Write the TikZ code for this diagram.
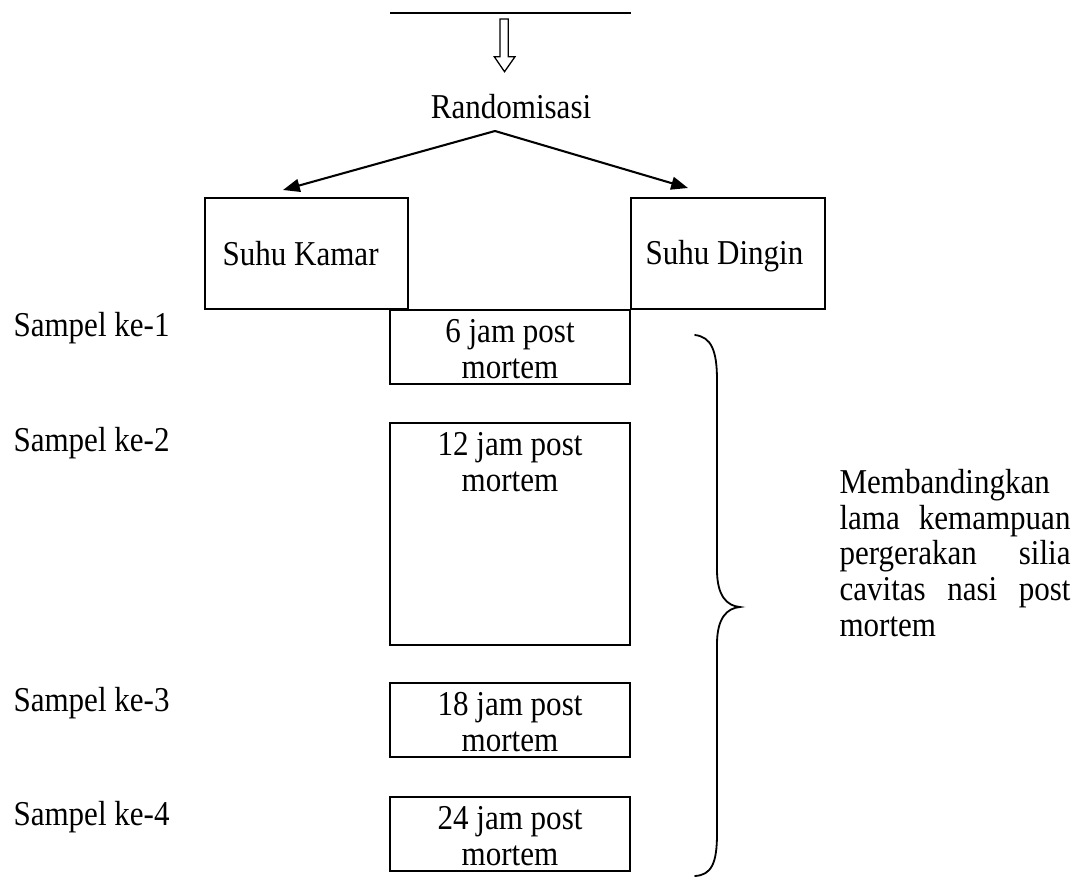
\documentclass[tikz,border=0pt]{standalone}
\usepackage{fontspec}
\setmainfont{Liberation Serif}[FakeStretch=0.89]
\usepackage{tikz}
\usetikzlibrary{arrows.meta}
\def\pxu{0.387pt}
\tikzset{
  box/.style={draw=black, line width=0.8pt, inner sep=0pt, minimum width=240*\pxu, minimum height=74*\pxu},
  lab/.style={font=\fontsize{13.5}{13.9}\selectfont, inner sep=0pt, align=center},
  arr/.style={draw=black, line width=0.8pt, -{Triangle[length=6.5pt,width=5pt]}},
  hollow/.style={draw=black, line width=0.5pt, line join=miter},
  brc/.style={draw=black, line width=0.7pt, line cap=round},
}

\begin{document}
\begin{tikzpicture}[x=\pxu,y=-\pxu]
  \useasboundingbox (0,0) rectangle (1078,878);

  \draw[line width=0.9pt] (390,12.7) -- (631,12.7);
  \draw[hollow] (500,19) -- (508.3,19) -- (508.3,56.7) -- (515,56.7) -- (504.5,71.7)
    -- (494.3,56.7) -- (500,56.7) -- cycle;

  \node[lab] (rand) at (511,107) {Randomisasi};
  \coordinate (split) at (495,131);
  \coordinate (kamar-in) at (283,190);
  \coordinate (dingin-in) at (688,188);

  \node[box, minimum width=203*\pxu, minimum height=111*\pxu] (kamar) at (306.5,253.5) {};
  \node[lab, anchor=west] (kamar-t) at (222,254) {Suhu Kamar};
  \node[box, minimum width=194*\pxu, minimum height=111*\pxu] (dingin) at (728,253.5) {};
  \node[lab, anchor=west] (dingin-t) at (645,256) {Suhu Dingin};

  \draw[arr] (split) -- (kamar-in);
  \draw[arr] (split) -- (dingin-in);

  % time boxes
  \node[box] (jam6) at (510,347) {};
  \node[lab] (jam6-t) at (510,349) {6 jam post\\mortem};
  \node[box, minimum height=222*\pxu] (jam12) at (510,534) {};
  \node[lab] (jam12-t) at (510,462) {12 jam post\\mortem};
  \node[box] (jam18) at (510,720) {};
  \node[lab] (jam18-t) at (510,722) {18 jam post\\mortem};
  \node[box] (jam24) at (510,834) {};
  \node[lab] (jam24-t) at (510,836) {24 jam post\\mortem};

  \node[lab, anchor=west] (sampel1) at (13,328) {Sampel ke-1};
  \node[lab, anchor=west] (sampel2) at (13,443) {Sampel ke-2};
  \node[lab, anchor=west] (sampel3) at (13,703) {Sampel ke-3};
  \node[lab, anchor=west] (sampel4) at (13,817) {Sampel ke-4};

  \draw[brc] (695,335) .. controls (711,337) and (717,350) .. (717,380) -- (717,570)
    .. controls (717,596) and (727,606) .. (740,607)
    .. controls (727,608) and (717,618) .. (717,644) -- (717,834)
    .. controls (717,864) and (711,875) .. (695,876);

  \node[lab, text width=231*\pxu, align=left, anchor=west] (banding) at (839,553)
    {Membandingkan\\lama\hfill kemampuan\\pergerakan\hfill silia\\cavitas\hfill nasi\hfill post\\mortem};
\end{tikzpicture}
\end{document}
